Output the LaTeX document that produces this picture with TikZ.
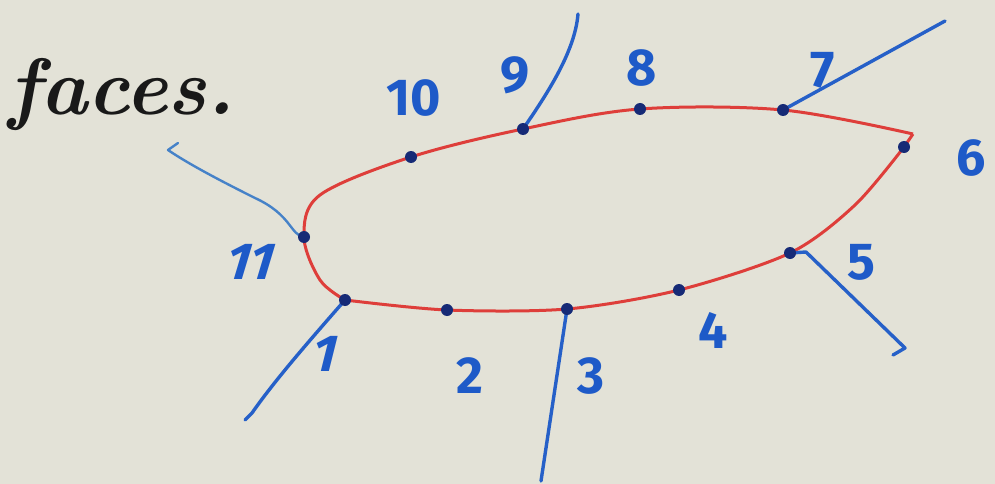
\documentclass[tikz,border=0pt]{standalone}
\usepackage{fontspec}
\setsansfont{Fira Sans}
\begin{document}
\begin{tikzpicture}[x=1pt,y=-1pt,
  paper/.style={fill={rgb,255:red,227;green,226;blue,215}},
  redline/.style={draw={rgb,255:red,222;green,62;blue,58}, line width=3pt, line join=round},
  blueline/.style={draw={rgb,255:red,38;green,96;blue,200}, line width=3.4pt, line cap=round, line join=round},
  thinblue/.style={draw={rgb,255:red,70;green,130;blue,200}, line width=2.4pt, line cap=round, line join=round},
  dot/.style={circle, fill={rgb,255:red,22;green,42;blue,118}, inner sep=0pt, minimum size=12pt},
  lab/.style={text={rgb,255:red,30;green,90;blue,200}, font=\sffamily\bfseries\fontsize{52}{52}\selectfont, inner sep=0pt},
  title/.style={text={rgb,255:red,25;green,25;blue,25}, font=\bfseries\itshape\fontsize{80}{80}\selectfont, inner sep=0pt, anchor=base west}]
\path[paper] (0,0) rectangle (995,484);
\useasboundingbox (0,0) rectangle (995,484);

% title
\node[title] (title) at (8,115) {faces.};

% points on curve
\coordinate (p1) at (345,300);
\coordinate (p2) at (447,310);
\coordinate (p3) at (567,309);
\coordinate (p4) at (679,290);
\coordinate (p5) at (790,253);
\coordinate (p6) at (904,147);
\coordinate (p7) at (783,110);
\coordinate (p8) at (640,109);
\coordinate (p9) at (523,129);
\coordinate (p10) at (411,157);
\coordinate (p11) at (304,237);
\coordinate (corner) at (913,134);
\coordinate (mid56) at (855,205);

% red outline
\draw[redline] plot[smooth, tension=0.55] coordinates {(p1) (320,280) (p11) (320,195) (p10) (p9) (p8) (p7) (corner)};
\draw[redline] (corner) -- (p6);
\draw[redline] plot[smooth, tension=0.5] coordinates {(p6) (mid56) (p5) (p4) (p3) (p2) (p1)};

% blue tick lines
\coordinate (e1) at (245,420);
\coordinate (e1h) at (252,413);
\coordinate (e3) at (541,481);
\coordinate (e5) at (905,348);
\coordinate (e5h) at (893,355);
\coordinate (e7) at (945,21);
\coordinate (e9) at (578,14);
\coordinate (e11) at (168,150);
\coordinate (e11h) at (178,143);

\draw[blueline] (p1) .. controls (310,340) and (275,380) .. (e1h) -- (e1);
\draw[blueline] (p3) -- (e3);
\draw[blueline] (p5) -- (806,252) -- (e5) -- (e5h);
\draw[blueline] (p7) -- (e7);
\draw[blueline] (p9) .. controls (550,90) and (575,50) .. (e9);
\draw[thinblue] (p11) .. controls (290,235) and (292,215) .. (255,198) .. controls (225,183) and (190,165) .. (e11) -- (e11h);

% dots
\foreach \i in {1,...,11} { \node[dot] (d\i) at (p\i) {}; }

% labels
\node[lab, xslant=0.25] (l1) at (326,354) {1};
\node[lab] (l2) at (470,376) {2};
\node[lab] (l3) at (591,376) {3};
\node[lab] (l4) at (713,330) {4};
\node[lab] (l5) at (861,262) {5};
\node[lab] (l6) at (971,158) {6};
\node[lab] (l7) at (823,70) {7};
\node[lab] (l8) at (642,68) {8};
\node[lab] (l9) at (515,75) {9};
\node[lab] (l10) at (414,98) {10};
\node[lab, xslant=0.3] (l11) at (251,262) {11};
\end{tikzpicture}
\end{document}
